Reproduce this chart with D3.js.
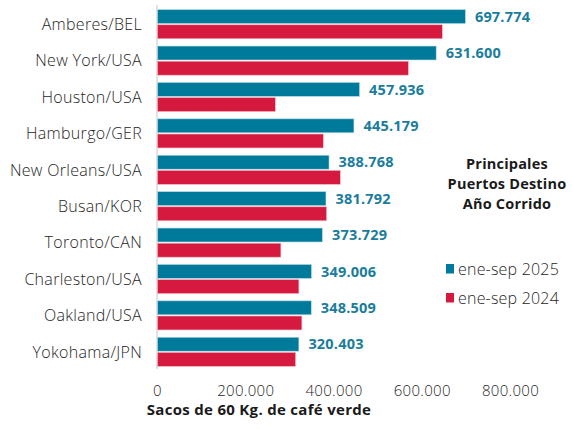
<html>
  <head>
    <style>
      body { margin: 0; background: #fff; }
      text { font-family: "Open Sans", "Noto Sans", sans-serif; }
      .cat { font-size: 16px; fill: #262626; font-weight: 300; letter-spacing: 0.3px; }
      .tick-lab { font-size: 15px; fill: #262626; font-weight: 300; letter-spacing: 0.3px; }
      .val { font-size: 14.5px; font-weight: 700; fill: #1a7d9c; letter-spacing: 0.2px; }
      .title { font-size: 14.5px; font-weight: 700; fill: #1a1a1a; letter-spacing: 0.2px; }
      .leg { font-size: 16px; fill: #262626; font-weight: 300; letter-spacing: 0.2px; }
    </style>
    <script src="https://cdnjs.cloudflare.com/ajax/libs/d3/7.8.5/d3.min.js"></script>
  </head>
  <body>
    <script>
      // Data
      var ports = ["Amberes/BEL", "New York/USA", "Houston/USA", "Hamburgo/GER", "New Orleans/USA",
                   "Busan/KOR", "Toronto/CAN", "Charleston/USA", "Oakland/USA", "Yokohama/JPN"];
      var values2025 = [697774, 631600, 457936, 445179, 388768, 381792, 373729, 349006, 348509, 320403];
      var values2024 = [645500, 568500, 267000, 375700, 414300, 383200, 279600, 320400, 327200, 312900];
      var seriesNames = ["ene-sep 2025", "ene-sep 2024"];
      var seriesColors = ["#007a9a", "#d6193e"];
      var xTicks = [0, 200000, 400000, 600000, 800000];

      var W = 572, H = 430;
      var svg = d3.select("body").append("svg")
        .attr("width", W)
        .attr("height", H);

      var fmt = d3.formatLocale({decimal: ",", thousands: ".", grouping: [3], currency: ["", ""]}).format(",");

      var x = d3.scaleLinear().domain([0, 800000]).range([157, 510]);
      var y = d3.scaleBand().domain(ports).range([6, 370]).paddingInner(0.2).paddingOuter(0.1);
      var sub = d3.scaleBand().domain([0, 1]).range([0, y.bandwidth()]).paddingInner(0.08);

      // axis baseline
      svg.append("line")
        .attr("x1", x(0)).attr("x2", x(0))
        .attr("y1", 5).attr("y2", 369)
        .attr("stroke", "#d9d9d9").attr("stroke-width", 1.5);

      var rows = ports.map(function(p, i) {
        return {port: p, vals: [values2025[i], values2024[i]]};
      });

      var g = svg.selectAll(".row")
        .data(rows)
        .enter().append("g")
        .attr("class", "row")
        .attr("transform", function(d) { return "translate(0," + y(d.port) + ")"; });

      g.selectAll("rect")
        .data(function(d) { return d.vals; })
        .enter().append("rect")
        .attr("x", x(0) + 0.5)
        .attr("y", function(v, j) { return sub(j); })
        .attr("width", function(v) { return x(v) - x(0); })
        .attr("height", sub.bandwidth())
        .attr("fill", function(v, j) { return seriesColors[j]; })
        .attr("stroke", function(v, j) { return j === 0 ? "#bcdbe5" : "#f1b9c5"; })
        .attr("stroke-width", 0.6);

      // value labels for 2025
      g.append("text")
        .attr("class", "val")
        .attr("x", function(d) { return x(d.vals[0]) + 10; })
        .attr("y", sub(0) + sub.bandwidth() / 2)
        .attr("dy", "0.36em")
        .text(function(d) { return fmt(d.vals[0]); });

      // category labels
      g.append("text")
        .attr("class", "cat")
        .attr("x", 142)
        .attr("y", y.bandwidth() / 2)
        .attr("dy", "0.36em")
        .attr("text-anchor", "end")
        .text(function(d) { return d.port; });

      // x axis
      var xAxis = d3.axisBottom(x).tickValues(xTicks).tickSize(0).tickPadding(0)
        .tickFormat(function(v) { return fmt(v); });
      var ax = svg.append("g").attr("transform", "translate(0,396)").call(xAxis);
      ax.select(".domain").remove();
      ax.selectAll("text").attr("class", "tick-lab").attr("dy", 0)
        .attr("font-family", null).attr("font-size", null).attr("fill", null);

      svg.append("text")
        .attr("class", "title")
        .attr("x", 259).attr("y", 415)
        .attr("text-anchor", "middle")
        .style("font-size", "15px")
        .style("letter-spacing", "0.3px")
        .text("Sacos de 60 Kg. de café verde");

      // chart title
      var titleLines = ["Principales", "Puertos Destino", "Año Corrido"];
      svg.selectAll(".ttl")
        .data(titleLines)
        .enter().append("text")
        .attr("class", "title")
        .attr("x", 507)
        .attr("y", function(d, i) { return 168.5 + i * 20; })
        .attr("text-anchor", "middle")
        .text(function(d) { return d; });

      // legend
      var leg = svg.selectAll(".lg")
        .data(seriesNames)
        .enter().append("g")
        .attr("transform", function(d, i) { return "translate(446," + (264 + i * 29) + ")"; });
      leg.append("rect")
        .attr("width", 8).attr("height", 9.5)
        .attr("fill", function(d, i) { return seriesColors[i]; });
      leg.append("text")
        .attr("class", "leg")
        .attr("x", 12).attr("y", 5)
        .attr("dy", "0.36em")
        .text(function(d) { return d; });
    </script>
  </body>
</html>
